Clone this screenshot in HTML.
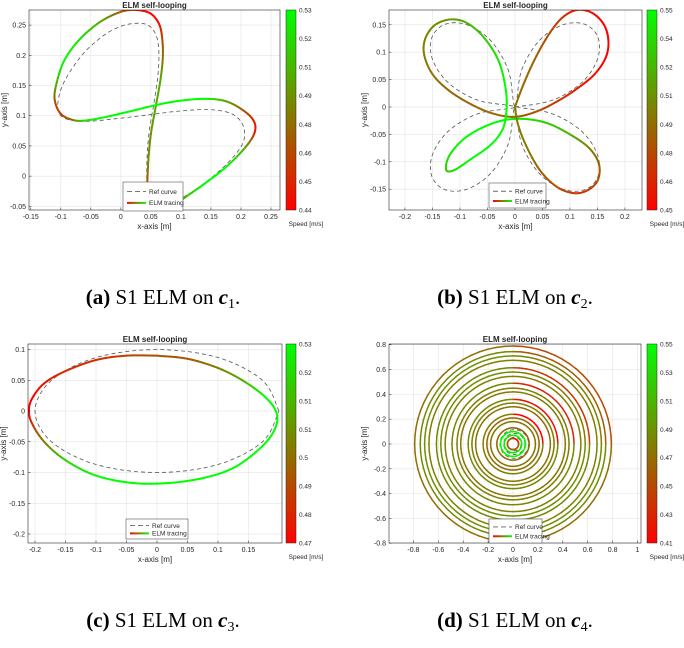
<!DOCTYPE html>
<html><head><meta charset="utf-8"><style>
html,body{margin:0;padding:0;background:#fff}
svg{display:block}
text{font-family:"Liberation Sans",sans-serif;fill:#262626}
.cap{font-family:"Liberation Serif",serif;font-size:21px;fill:#000}
</style></head><body>
<svg id="fig" width="684" height="648" viewBox="0 0 684 648" xmlns="http://www.w3.org/2000/svg">
<defs>
<linearGradient id="cbg" x1="0" y1="1" x2="0" y2="0"><stop offset="0" stop-color="rgb(255,0,0)"/><stop offset="1" stop-color="rgb(0,255,0)"/></linearGradient>
<linearGradient id="lgg" x1="0" y1="0" x2="1" y2="0"><stop offset="0" stop-color="rgb(255,0,0)"/><stop offset="1" stop-color="rgb(0,255,0)"/></linearGradient>
</defs>
<g><text class="cap" x="163" y="304" text-anchor="middle"><tspan font-weight="bold">(a)</tspan> S1 ELM on <tspan font-weight="bold" font-style="italic">c</tspan><tspan font-size="14" dy="4">1</tspan><tspan dy="-4">.</tspan></text></g>
<g><text class="cap" x="515" y="304" text-anchor="middle"><tspan font-weight="bold">(b)</tspan> S1 ELM on <tspan font-weight="bold" font-style="italic">c</tspan><tspan font-size="14" dy="4">2</tspan><tspan dy="-4">.</tspan></text></g>
<g><text class="cap" x="163" y="627" text-anchor="middle"><tspan font-weight="bold">(c)</tspan> S1 ELM on <tspan font-weight="bold" font-style="italic">c</tspan><tspan font-size="14" dy="4">3</tspan><tspan dy="-4">.</tspan></text></g>
<g><text class="cap" x="515" y="627" text-anchor="middle"><tspan font-weight="bold">(d)</tspan> S1 ELM on <tspan font-weight="bold" font-style="italic">c</tspan><tspan font-size="14" dy="4">4</tspan><tspan dy="-4">.</tspan></text></g>
</svg>
<script>
// ---------- Panel A data ----------
const aElmX=[0.044,0.046,0.050,0.058,0.066,0.070,0.068,0.062,0.048,0.025,0.000,-0.035,-0.070,-0.095,-0.108,-0.110,-0.100,-0.080,-0.060,-0.030,0.010,0.060,0.100,0.140,0.175,0.205,0.222,0.222,0.205,0.175,0.140,0.110,0.088,0.076,0.062];
const aElmY=[-0.010,0.030,0.070,0.115,0.160,0.200,0.235,0.255,0.270,0.275,0.272,0.255,0.225,0.190,0.150,0.125,0.103,0.093,0.092,0.097,0.106,0.118,0.125,0.128,0.124,0.108,0.090,0.070,0.045,0.015,-0.012,-0.033,-0.048,-0.054,-0.052];
const aElmS=[0.47,0.49,0.49,0.50,0.50,0.48,0.46,0.445,0.44,0.445,0.47,0.50,0.52,0.53,0.50,0.47,0.46,0.48,0.52,0.53,0.53,0.53,0.53,0.53,0.50,0.47,0.45,0.45,0.50,0.53,0.53,0.51,0.48,0.46,0.46];
const aRefX=[0.043,0.044,0.048,0.055,0.062,0.063,0.058,0.045,0.025,0.000,-0.030,-0.065,-0.095,-0.105,-0.100,-0.080,-0.050,0.000,0.050,0.100,0.150,0.185,0.203,0.205,0.190,0.160,0.120,0.090,0.068];
const aRefY=[-0.005,0.040,0.080,0.120,0.170,0.210,0.235,0.250,0.253,0.248,0.232,0.200,0.155,0.120,0.100,0.092,0.091,0.096,0.102,0.108,0.110,0.103,0.085,0.060,0.035,0.005,-0.025,-0.042,-0.050];
const aXTicks=[-0.15,-0.1,-0.05,0,0.05,0.1,0.15,0.2,0.25];
const aYTicks=[-0.05,0,0.05,0.1,0.15,0.2,0.25];
const aCbLabels=["0.53","0.52","0.51","0.49","0.48","0.46","0.45","0.44"];
// ---------- Panel B data ----------
const bElmX=[0.000,0.015,0.035,0.060,0.085,0.112,0.140,0.162,0.170,0.165,0.145,0.115,0.080,0.040,0.000,-0.040,-0.080,-0.120,-0.150,-0.165,-0.163,-0.145,-0.115,-0.085,-0.055,-0.030,-0.018,-0.015,-0.022,-0.045,-0.080,-0.110,-0.125,-0.120,-0.095,-0.060,-0.020,0.020,0.060,0.100,0.135,0.153,0.150,0.130,0.105,0.075,0.045,0.020,0.005,0.000];
const bElmY=[0.000,0.040,0.085,0.130,0.162,0.177,0.172,0.150,0.120,0.090,0.060,0.035,0.012,-0.008,-0.018,-0.012,0.005,0.030,0.060,0.095,0.125,0.150,0.160,0.152,0.125,0.085,0.040,0.000,-0.040,-0.070,-0.095,-0.115,-0.115,-0.090,-0.060,-0.038,-0.024,-0.022,-0.030,-0.050,-0.075,-0.105,-0.135,-0.153,-0.157,-0.145,-0.115,-0.070,-0.030,0.000];
const bElmS=[0.50,0.49,0.49,0.48,0.47,0.46,0.455,0.45,0.45,0.45,0.455,0.46,0.47,0.48,0.49,0.49,0.49,0.49,0.495,0.50,0.50,0.505,0.51,0.52,0.53,0.54,0.55,0.55,0.55,0.55,0.55,0.54,0.53,0.54,0.55,0.55,0.55,0.54,0.53,0.52,0.50,0.49,0.48,0.47,0.47,0.48,0.49,0.50,0.50,0.50];
const bRefX=[0,0.067,0.121,0.150,0.151,0.127,0.087,0.044,0.012,0,-0.012,-0.044,-0.087,-0.127,-0.151,-0.150,-0.121,-0.067,0,-0.067,-0.121,-0.150,-0.151,-0.127,-0.087,-0.044,-0.012,0,0.012,0.044,0.087,0.127,0.151,0.150,0.121,0.067,0];
const bRefY=[0,0.012,0.044,0.087,0.127,0.151,0.150,0.121,0.067,0,0.067,0.121,0.150,0.151,0.127,0.087,0.044,0.012,0,-0.012,-0.044,-0.087,-0.127,-0.151,-0.150,-0.121,-0.067,0,-0.067,-0.121,-0.150,-0.151,-0.127,-0.087,-0.044,-0.012,0];
const bXTicks=[-0.2,-0.15,-0.1,-0.05,0,0.05,0.1,0.15,0.2];
const bYTicks=[-0.15,-0.1,-0.05,0,0.05,0.1,0.15];
const bCbLabels=["0.55","0.54","0.52","0.51","0.49","0.48","0.46","0.45"];
// ---------- Panel C data ----------
const cElmX=[0.000,0.050,0.100,0.140,0.175,0.195,0.195,0.175,0.130,0.080,0.020,-0.040,-0.100,-0.150,-0.185,-0.205,-0.210,-0.205,-0.185,-0.150,-0.100,-0.050,0.000];
const cElmY=[0.090,0.085,0.070,0.050,0.025,0.000,-0.025,-0.055,-0.090,-0.108,-0.117,-0.117,-0.105,-0.080,-0.050,-0.020,0.000,0.020,0.045,0.065,0.083,0.090,0.090];
const cElmS=[0.49,0.49,0.50,0.51,0.53,0.53,0.53,0.53,0.53,0.53,0.53,0.53,0.53,0.52,0.50,0.48,0.47,0.47,0.475,0.48,0.48,0.485,0.49];
const cRefX=[0.2,0.173,0.1,0,-0.1,-0.173,-0.2,-0.173,-0.1,0,0.1,0.173,0.2];
const cRefY=[0,0.05,0.087,0.1,0.087,0.05,0,-0.05,-0.087,-0.1,-0.087,-0.05,0];
const cXTicks=[-0.2,-0.15,-0.1,-0.05,0,0.05,0.1,0.15];
const cYTicks=[-0.2,-0.15,-0.1,-0.05,0,0.05,0.1];
const cCbLabels=["0.53","0.52","0.51","0.51","0.5","0.49","0.48","0.47"];
// ---------- Panel D data ----------
const dRingR=[0.79,0.745,0.71,0.675,0.615,0.58,0.545,0.49,0.45,0.42,0.36,0.33,0.30,0.24,0.21,0.18,0.13,0.10,0.07,0.045];
const dRingS=[0.47,0.485,0.49,0.48,0.485,0.49,0.48,0.485,0.48,0.475,0.485,0.48,0.475,0.48,0.47,0.475,0.47,0.55,0.54,0.46];
const dArcS=[0.45,0.46,0.48,0.48,0.44,0.48,0.48,0.43,0.48,0.48,0.42,0.48,0.47,0.41,0.47,0.475,0.46,0.55,0.54,0.42];
const dRefR=[0.115,0.085,0.055];
const dXTicks=[-0.8,-0.6,-0.4,-0.2,0,0.2,0.4,0.6,0.8,1];
const dYTicks=[-0.8,-0.6,-0.4,-0.2,0,0.2,0.4,0.6,0.8];
const dCbLabels=["0.55","0.53","0.51","0.49","0.47","0.45","0.43","0.41"];

const NS="http://www.w3.org/2000/svg";
const svg=document.getElementById('fig');
function mk(tag,attrs,parent){const e=document.createElementNS(NS,tag);for(const k in attrs)e.setAttribute(k,attrs[k]);(parent||svg).appendChild(e);return e;}
function col(s,lo,hi){let t=(s-lo)/(hi-lo);t=Math.max(0,Math.min(1,t));return `rgb(${Math.round(255*(1-t))},${Math.round(255*t)},0)`;}
function crSample(xs,ys,ss){const out=[];const n=xs.length;
 for(let i=0;i<n-1;i++){const i0=Math.max(0,i-1),i3=Math.min(n-1,i+2);
  for(let k=0;k<6;k++){const t=k/6,t2=t*t,t3=t2*t;
   const f=(a,b,c,d)=>0.5*((2*b)+(-a+c)*t+(2*a-5*b+4*c-d)*t2+(-a+3*b-3*c+d)*t3);
   out.push([f(xs[i0],xs[i],xs[i+1],xs[i3]),f(ys[i0],ys[i],ys[i+1],ys[i3]),ss?ss[i]+(ss[i+1]-ss[i])*t:0]);}}
 out.push([xs[n-1],ys[n-1],ss?ss[n-1]:0]);return out;}
function fmt(v){return String(Math.round(v*1000)/1000);}

function panel(id,P){
 const g=mk('g',{});
 
 
 const W=P.r-P.l,H=P.b-P.t;
 const X=v=>P.l+(v-P.xmin)/(P.xmax-P.xmin)*W;
 const Y=v=>P.b-(v-P.ymin)/(P.ymax-P.ymin)*H;
 mk('rect',{x:P.l,y:P.t,width:W,height:H,fill:'#fff'},g);
 const grid=mk('g',{stroke:'#e3e3e3','stroke-width':0.6},g);
 
 
 P.xt.forEach(v=>mk('line',{x1:X(v),x2:X(v),y1:P.t,y2:P.b},grid));
 P.yt.forEach(v=>mk('line',{y1:Y(v),y2:Y(v),x1:P.l,x2:P.r},grid));
 const cp=mk('clipPath',{id:'clip'+id},g);mk('rect',{x:P.l,y:P.t,width:W,height:H},cp);
 const plot=mk('g',{'clip-path':`url(#clip${id})`},g);
 const ref=mk('g',{fill:'none',stroke:'#555','stroke-width':0.8,'stroke-dasharray':'4 3'},plot);
 
 
 const elm=mk('g',{fill:'none','stroke-width':P.rings?1.5:2,'stroke-linecap':'round'},plot);
 
 
 if(P.rx){const pts=crSample(P.rx,P.ry,null);mk('path',{d:'M'+pts.map(p=>X(p[0]).toFixed(1)+','+Y(p[1]).toFixed(1)).join('L')},ref);}
 if(P.ex){const pts=crSample(P.ex,P.ey,P.es);
  for(let i=0;i<pts.length-1;i++){mk('line',{x1:X(pts[i][0]),y1:Y(pts[i][1]),x2:X(pts[i+1][0]),y2:Y(pts[i+1][1]),stroke:col((pts[i][2]+pts[i+1][2])/2,P.lo,P.hi)},elm);}}
 if(P.rings){
  P.refR.forEach(r=>mk('circle',{cx:X(0.01),cy:Y(0),r:r*(X(1)-X(0))},ref));
  P.rings.forEach((r,j)=>{const N=72;
   for(let k=0;k<N;k++){const a0=k/N*2*Math.PI,a1=(k+1)/N*2*Math.PI;
    const s=(a0<Math.PI/2)?P.arcS[j]:P.ringS[j];
    mk('line',{x1:X(r*Math.cos(a0)),y1:Y(r*Math.sin(a0)),x2:X(r*Math.cos(a1)),y2:Y(r*Math.sin(a1)),stroke:col(s,P.lo,P.hi)},elm);}});
 }
 mk('rect',{x:P.l,y:P.t,width:W,height:H,fill:'none',stroke:'#262626','stroke-width':0.6},g);
 const xa=mk('g',{'font-size':7,'text-anchor':'middle'},g);
 
 
 P.xt.forEach(v=>{mk('line',{x1:X(v),x2:X(v),y1:P.b,y2:P.b-2.5,stroke:'#262626','stroke-width':0.5},xa);const t=mk('text',{x:X(v),y:P.b+9},xa);t.textContent=fmt(v);});
 const ya=mk('g',{'font-size':7,'text-anchor':'end'},g);
 
 
 P.yt.forEach(v=>{mk('line',{x1:P.l,x2:P.l+2.5,y1:Y(v),y2:Y(v),stroke:'#262626','stroke-width':0.5},ya);const t=mk('text',{x:P.l-3,y:Y(v)+2.5},ya);t.textContent=fmt(v);});
 const ti=mk('text',{x:(P.l+P.r)/2,y:P.t-2,'font-size':8,'font-weight':'bold','text-anchor':'middle'},g);ti.textContent='ELM self-looping';
 
 
 const xl=mk('text',{x:(P.l+P.r)/2,y:P.b+19,'font-size':8,'text-anchor':'middle'},g);xl.textContent='x-axis [m]';
 
 
 const yl=mk('text',{x:0,y:0,'font-size':8,'text-anchor':'middle',transform:`translate(${P.l-22},${(P.t+P.b)/2}) rotate(-90)`},g);yl.textContent='y-axis [m]';
 
 
 const lg=mk('g',{},g);
 
 
 mk('rect',{x:P.lg[0],y:P.lg[1],width:P.lg[2],height:P.lg[3],fill:'#fff',stroke:'#555','stroke-width':0.6},lg);
 const ly1=P.lg[1]+P.lg[3]*0.33,ly2=P.lg[1]+P.lg[3]*0.72;
 mk('line',{x1:P.lg[0]+4,x2:P.lg[0]+23,y1:ly1,y2:ly1,stroke:'#666','stroke-width':0.9,'stroke-dasharray':'5 3'},lg);
 mk('rect',{x:P.lg[0]+4,y:ly2-1,width:19,height:2,fill:'url(#lgg)'},lg);
 const t1=mk('text',{x:P.lg[0]+26,y:ly1+2.3,'font-size':6.5},lg);t1.textContent='Ref curve';
 const t2=mk('text',{x:P.lg[0]+26,y:ly2+2.3,'font-size':6.5},lg);t2.textContent='ELM tracing';
 const cb=mk('g',{},g);
 
 
 mk('rect',{x:P.cb,y:P.t,width:10,height:H,fill:'url(#cbg)',stroke:'#262626','stroke-width':0.5},cb);
 P.cbl.forEach((s,i)=>{const yy=P.t+i*H/(P.cbl.length-1);const t=mk('text',{x:P.cb+13,y:yy+2.5,'font-size':6.5},cb);t.textContent=s;});
 const sp=mk('text',{x:P.cb+20,y:P.b+16,'font-size':6.5,'text-anchor':'middle'},cb);sp.textContent='Speed [m/s]';
}
panel('a',{l:29,r:280,t:10,b:210,xmin:-0.153,xmax:0.265,ymin:-0.056,ymax:0.275,xt:aXTicks,yt:aYTicks,ex:aElmX,ey:aElmY,es:aElmS,rx:aRefX,ry:aRefY,lo:0.44,hi:0.53,lg:[123,182,60,29],cb:286,cbl:aCbLabels});
panel('b',{l:389,r:642,t:10,b:210,xmin:-0.229,xmax:0.231,ymin:-0.188,ymax:0.177,xt:bXTicks,yt:bYTicks,ex:bElmX,ey:bElmY,es:bElmS,rx:bRefX,ry:bRefY,lo:0.45,hi:0.55,lg:[489,183,57,25],cb:647,cbl:bCbLabels});
panel('c',{l:28,r:282,t:344,b:543,xmin:-0.2115,xmax:0.205,ymin:-0.2146,ymax:0.109,xt:cXTicks,yt:cYTicks,ex:cElmX,ey:cElmY,es:cElmS,rx:cRefX,ry:cRefY,lo:0.47,hi:0.53,lg:[126,519,62,20],cb:286,cbl:cCbLabels});
panel('d',{l:389,r:641,t:344,b:543,xmin:-0.996,xmax:1.028,ymin:-0.798,ymax:0.806,xt:dXTicks,yt:dYTicks,rings:dRingR,ringS:dRingS,arcS:dArcS,refR:dRefR,lo:0.41,hi:0.55,lg:[489,519,53,24],cb:647,cbl:dCbLabels});
</script>
</body></html>
